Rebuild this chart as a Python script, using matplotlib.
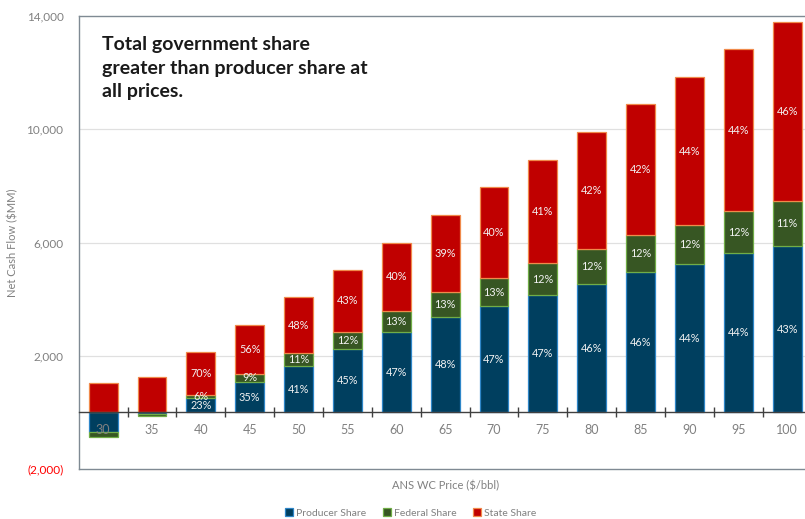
import numpy as np
import matplotlib
matplotlib.use("Agg")
import matplotlib.pyplot as plt
from matplotlib.ticker import FixedLocator, FuncFormatter
from matplotlib.transforms import offset_copy

plt.rcParams["font.family"] = ["Lato", "DejaVu Sans"]

# Data ($MM)
prices = [30, 35, 40, 45, 50, 55, 60, 65, 70, 75, 80, 85, 90, 95, 100]
producer = [-680, -60, 500, 1070, 1650, 2240, 2830, 3360, 3740, 4150, 4540, 4950, 5230, 5620, 5890]
federal = [-180, -60, 120, 290, 440, 610, 760, 880, 1020, 1120, 1225, 1320, 1390, 1500, 1590]
state = [1030, 1265, 1505, 1730, 1980, 2180, 2400, 2730, 3190, 3650, 4130, 4620, 5220, 5700, 6300]

prod_pct = ["", "", "23%", "35%", "41%", "45%", "47%", "48%", "47%", "47%", "46%", "46%", "44%", "44%", "43%"]
fed_pct = ["", "", "6%", "9%", "11%", "12%", "13%", "13%", "13%", "12%", "12%", "12%", "12%", "12%", "11%"]
state_pct = ["", "", "70%", "56%", "48%", "43%", "40%", "39%", "40%", "41%", "42%", "42%", "44%", "44%", "46%"]

y_ticks = [-2000, 2000, 6000, 10000, 14000]

BLUE, BLUE_EDGE = "#003f5f", "#2e86c8"
GREEN, GREEN_EDGE = "#375623", "#70ad47"
RED, RED_EDGE = "#c00000", "#f08a4b"
GRAY = "#808080"
SPINE = "#7f8a93"

fig = plt.figure(figsize=(8.05, 5.19), dpi=100)
ax = fig.add_axes([0.0978, 0.0963, 0.9104, 0.8729])
ax.set_axisbelow(False)

x = np.arange(len(prices))
producer = np.array(producer, dtype=float)
federal = np.array(federal, dtype=float)
state = np.array(state, dtype=float)

# stack positives up from zero, negatives down from zero
pos = np.zeros(len(x))
neg = np.zeros(len(x))


def stack(vals):
    bottoms = np.where(vals >= 0, pos, neg)
    pos[:] = np.where(vals >= 0, pos + vals, pos)
    neg[:] = np.where(vals < 0, neg + vals, neg)
    return bottoms


w = 0.59
b_prod = ax.bar(x, producer, w, bottom=stack(producer), color=BLUE,
                edgecolor=BLUE_EDGE, linewidth=0.9, label="Producer Share", zorder=1)
b_fed = ax.bar(x, federal, w, bottom=stack(federal), color=GREEN,
               edgecolor=GREEN_EDGE, linewidth=0.9, label="Federal Share", zorder=1)
b_state = ax.bar(x, state, w, bottom=stack(state), color=RED,
                 edgecolor=RED_EDGE, linewidth=0.9, label="State Share", zorder=1)

texts = {}
for key, bars, labels in [("prod", b_prod, prod_pct), ("fed", b_fed, fed_pct),
                          ("state", b_state, state_pct)]:
    texts[key] = ax.bar_label(bars, labels=labels, label_type="center", color="#f2f2f2",
                              fontsize=7.8, zorder=4)

# the thin $40 segments: labels spill a little, as in the original
t = texts["prod"][2]
t.set_transform(offset_copy(t.get_transform(), fig=fig, y=-3, units="points"))
t = texts["fed"][2]
t.set_transform(offset_copy(t.get_transform(), fig=fig, y=1, units="points"))

ax.set_xlim(-0.5, len(x) - 0.5)
ax.set_ylim(-2000, 14000)

# gridlines
for v in [2000, 6000, 10000]:
    ax.axhline(v, color="#e0e0e0", lw=0.9, zorder=0)

# spines
for s in ["left", "top", "right"]:
    ax.spines[s].set_color(SPINE)
    ax.spines[s].set_linewidth(1.0)
ax.spines["bottom"].set_position(("data", 0))
ax.spines["bottom"].set_color("#404040")
ax.spines["bottom"].set_linewidth(1.0)
ax.axhline(-2000, color=SPINE, lw=1.0, clip_on=False)

# x axis: labels at bars, crossing ticks between bars
ax.set_xticks(x)
ax.set_xticklabels([str(p) for p in prices])
ax.xaxis.set_minor_locator(FixedLocator(np.arange(0.5, len(x) - 0.5, 1)))
ax.tick_params(axis="x", which="major", length=0, pad=8, labelsize=9, labelcolor=GRAY)
ax.tick_params(axis="x", which="minor", direction="inout", length=7, width=1.0, color="#404040")

# y axis
ax.yaxis.set_major_locator(FixedLocator(y_ticks))
ax.yaxis.set_major_formatter(FuncFormatter(
    lambda v, p: f"({abs(v):,.0f})" if v < 0 else f"{v:,.0f}"))
ax.tick_params(axis="y", length=0, pad=11, labelsize=8.5, labelcolor=GRAY)
for lbl in ax.get_yticklabels():
    if lbl.get_text().startswith("("):
        lbl.set_color("red")

ax.set_ylabel("Net Cash Flow ($MM)", color=GRAY, fontsize=8)
ax.yaxis.set_label_coords(-0.083, 0.5)
ax.set_xlabel("ANS WC Price ($/bbl)", color=GRAY, fontsize=8)
ax.xaxis.set_label_coords(0.5, -0.025)

ax.text(0.032, 0.955, "Total government share\ngreater than producer share at\nall prices.",
        transform=ax.transAxes, ha="left", va="top", fontsize=14, fontweight="bold",
        color="#1a1a1a", linespacing=1.45, zorder=5)

fig.legend(handles=[b_prod, b_fed, b_state], loc="center", ncol=3,
           bbox_to_anchor=(411 / 805, 1 - 513 / 519), frameon=False,
           fontsize=7.5, labelcolor=GRAY, handlelength=0.75, handleheight=0.75,
           handletextpad=0.3, columnspacing=1.6, borderaxespad=0)

fig.savefig("out.png", dpi=100)
